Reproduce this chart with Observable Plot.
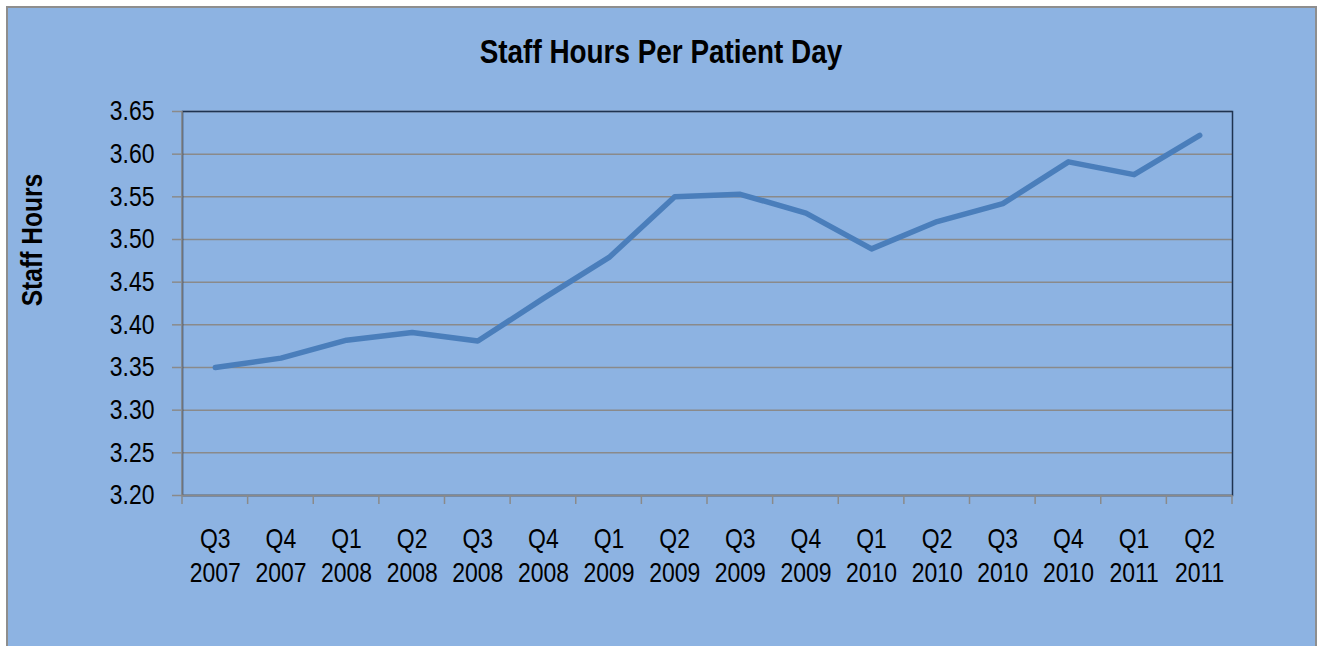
<!DOCTYPE html>
<html>
<head>
<meta charset="utf-8">
<script src="https://cdn.jsdelivr.net/npm/d3@7"></script>
<script src="https://cdn.jsdelivr.net/npm/@observablehq/plot@0.6"></script>
<style>
  html, body { margin: 0; padding: 0; background: #ffffff; width: 1317px; height: 646px; overflow: hidden; }
  #panel { position: absolute; left: 6px; top: 6px; width: 1311px; height: 660px; box-sizing: border-box;
           border: 2px solid #8E8E8E; background: #8DB3E2; }
  #chart { position: absolute; left: 0; top: 0; }
  #title { position: absolute; left: 0; width: 1322px; top: 34px; text-align: center;
           font: bold 34px "Liberation Sans", Arial, sans-serif; line-height: 34px; color: #000;
           transform: scaleX(0.82); transform-origin: 661px 50%; }
  #ylabel { position: absolute; left: -68px; top: 225px; width: 200px; height: 30px; text-align: center;
            font: bold 30px "Liberation Sans", Arial, sans-serif; line-height: 30px;
            transform: rotate(-90deg) scaleX(0.82); color: #000; }
</style>
</head>
<body>
<div id="panel"></div>
<div id="chart"></div>
<div id="title">Staff Hours Per Patient Day</div>
<div id="ylabel">Staff Hours</div>
<script>
const quarters = ["Q3","Q4","Q1","Q2","Q3","Q4","Q1","Q2","Q3","Q4","Q1","Q2","Q3","Q4","Q1","Q2"];
const years    = ["2007","2007","2008","2008","2008","2008","2009","2009","2009","2009","2010","2010","2010","2010","2011","2011"];
const staffHours = [3.350, 3.361, 3.382, 3.391, 3.381, 3.431, 3.479, 3.550, 3.553, 3.531, 3.489, 3.521, 3.542, 3.591, 3.576, 3.622];
const yTicks = [3.20, 3.25, 3.30, 3.35, 3.40, 3.45, 3.50, 3.55, 3.60, 3.65];

const categories = quarters.map((q, i) => q + "\n" + years[i]);
const data = categories.map((c, i) => ({period: c, value: staffHours[i]}));

const grid = "#8A8A8A";
const yDomain = [yTicks[0], yTicks[yTicks.length - 1]];

function boundaryTicks(index, scales) {
  const x = scales.x;
  const step = x.step();
  const bounds = categories.map(c => x(c) - step / 2).concat([x(categories[categories.length - 1]) + step / 2]);
  const yb = scales.y(yDomain[0]);
  const yt = scales.y(yDomain[1]);
  const g = d3.create("svg:g").attr("stroke", grid).attr("stroke-width", 1.5);
  g.selectAll("line.tick").data(bounds).join("line")
    .attr("x1", d => d).attr("x2", d => d).attr("y1", yb).attr("y2", yb + 9);
  g.append("line").attr("x1", bounds[0]).attr("x2", bounds[0]).attr("y1", yt).attr("y2", yb);
  return g.node();
}

const font = "'Liberation Sans', Arial, sans-serif";

const chart = Plot.plot({
  width: 1317,
  height: 646,
  marginLeft: 182,
  marginRight: 85,
  marginTop: 111,
  marginBottom: 151,
  style: {background: "transparent", fontFamily: font, color: "#000", overflow: "visible"},
  x: {type: "point", domain: categories, padding: 0.5, round: false},
  y: {domain: yDomain},
  marks: [
    Plot.gridY(yTicks, {stroke: grid, strokeOpacity: 1, strokeWidth: 1.5}),
    Plot.frame({stroke: "#1F3350", strokeWidth: 1.5}),
    Plot.ruleY([yDomain[0]], {stroke: grid, strokeWidth: 1.5}),
    boundaryTicks,
    Plot.axisY(yTicks, {tickSize: 10, tickPadding: 18, stroke: grid, strokeWidth: 1.5, fontSize: 28, fill: "#000",
      tickFormat: d => d.toFixed(2), label: null}),
    Plot.axisX({tickSize: 0, tickPadding: 29, fontSize: 28, fill: "#000", lineHeight: 1.2, label: null}),
    Plot.line(data, {x: "period", y: "value", stroke: "#4A7EBB", strokeWidth: 5.5,
      strokeLinejoin: "round", strokeLinecap: "round"})
  ]
});
// condense the axis text horizontally (narrow typeface look)
chart.querySelectorAll("text").forEach(t => {
  const tr = t.getAttribute("transform") || "";
  t.setAttribute("transform", tr + " scale(0.82,1)");
});
document.getElementById("chart").appendChild(chart);
</script>
</body>
</html>
